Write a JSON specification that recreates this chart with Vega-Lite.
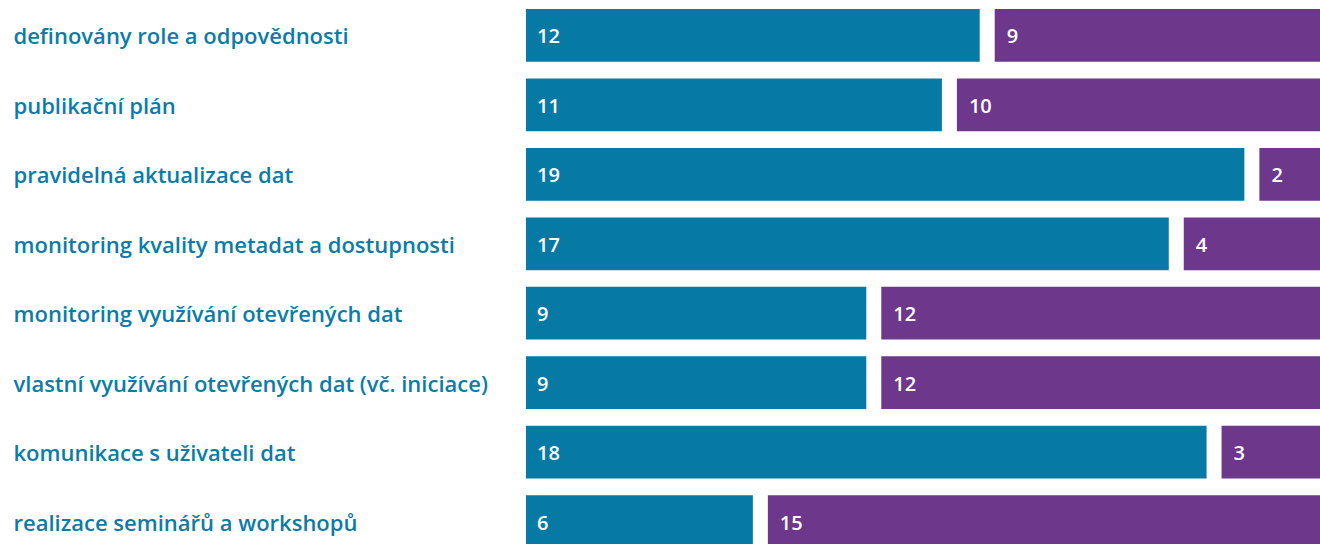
{
  "$schema": "https://vega.github.io/schema/vega-lite/v6.json",
  "width": 794,
  "height": 557,
  "autosize": "none",
  "padding": {"left": 526, "top": 0, "right": 0, "bottom": 0},
  "background": "white",
  "config": {"view": {"stroke": null}},
  "data": {
    "values": [
      {"category": "definovány role a odpovědnosti", "group": "a", "value": 12},
      {"category": "definovány role a odpovědnosti", "group": "b", "value": 9},
      {"category": "publikační plán", "group": "a", "value": 11},
      {"category": "publikační plán", "group": "b", "value": 10},
      {"category": "pravidelná aktualizace dat", "group": "a", "value": 19},
      {"category": "pravidelná aktualizace dat", "group": "b", "value": 2},
      {"category": "monitoring kvality metadat a dostupnosti", "group": "a", "value": 17},
      {"category": "monitoring kvality metadat a dostupnosti", "group": "b", "value": 4},
      {"category": "monitoring využívání otevřených dat", "group": "a", "value": 9},
      {"category": "monitoring využívání otevřených dat", "group": "b", "value": 12},
      {"category": "vlastní využívání otevřených dat (vč. iniciace)", "group": "a", "value": 9},
      {"category": "vlastní využívání otevřených dat (vč. iniciace)", "group": "b", "value": 12},
      {"category": "komunikace s uživateli dat", "group": "a", "value": 18},
      {"category": "komunikace s uživateli dat", "group": "b", "value": 3},
      {"category": "realizace seminářů a workshopů", "group": "a", "value": 6},
      {"category": "realizace seminářů a workshopů", "group": "b", "value": 15}
    ]
  },
  "transform": [
    {"stack": "value", "groupby": ["category"], "sort": [{"field": "group", "order": "ascending"}], "as": ["x0", "x1"]}
  ],
  "encoding": {
    "y": {
      "field": "category",
      "type": "nominal",
      "sort": null,
      "scale": {"paddingInner": 0.24, "paddingOuter": 0.13},
      "axis": {
        "title": null,
        "domain": false,
        "ticks": false,
        "grid": false,
        "labelAlign": "left",
        "labelPadding": 513,
        "labelLimit": 600,
        "labelOffset": 2,
        "labelFont": "Open Sans",
        "labelFontWeight": 600,
        "labelFontSize": 22,
        "labelColor": "#0b7ca8"
      }
    },
    "x": {"field": "x0", "type": "quantitative", "scale": {"domain": [0, 21], "nice": false, "zero": true}, "axis": null},
    "x2": {"field": "x1"}
  },
  "layer": [
    {
      "transform": [{"filter": "datum.group === 'a'"}],
      "mark": {"type": "bar", "color": "#0679a5"}
    },
    {
      "transform": [{"filter": "datum.group === 'b'"}],
      "mark": {"type": "bar", "color": "#6d378b", "xOffset": 15}
    },
    {
      "transform": [{"filter": "datum.group === 'a'"}],
      "mark": {"type": "text", "align": "left", "baseline": "middle", "dx": 11, "dy": 2, "color": "white", "font": "Open Sans", "fontWeight": 600, "fontSize": 20},
      "encoding": {"x": {"field": "x0", "type": "quantitative"}, "x2": null, "text": {"field": "value", "type": "quantitative"}}
    },
    {
      "transform": [{"filter": "datum.group === 'b'"}],
      "mark": {"type": "text", "align": "left", "baseline": "middle", "dx": 27, "dy": 2, "color": "white", "font": "Open Sans", "fontWeight": 600, "fontSize": 20},
      "encoding": {"x": {"field": "x0", "type": "quantitative"}, "x2": null, "text": {"field": "value", "type": "quantitative"}}
    }
  ]
}
